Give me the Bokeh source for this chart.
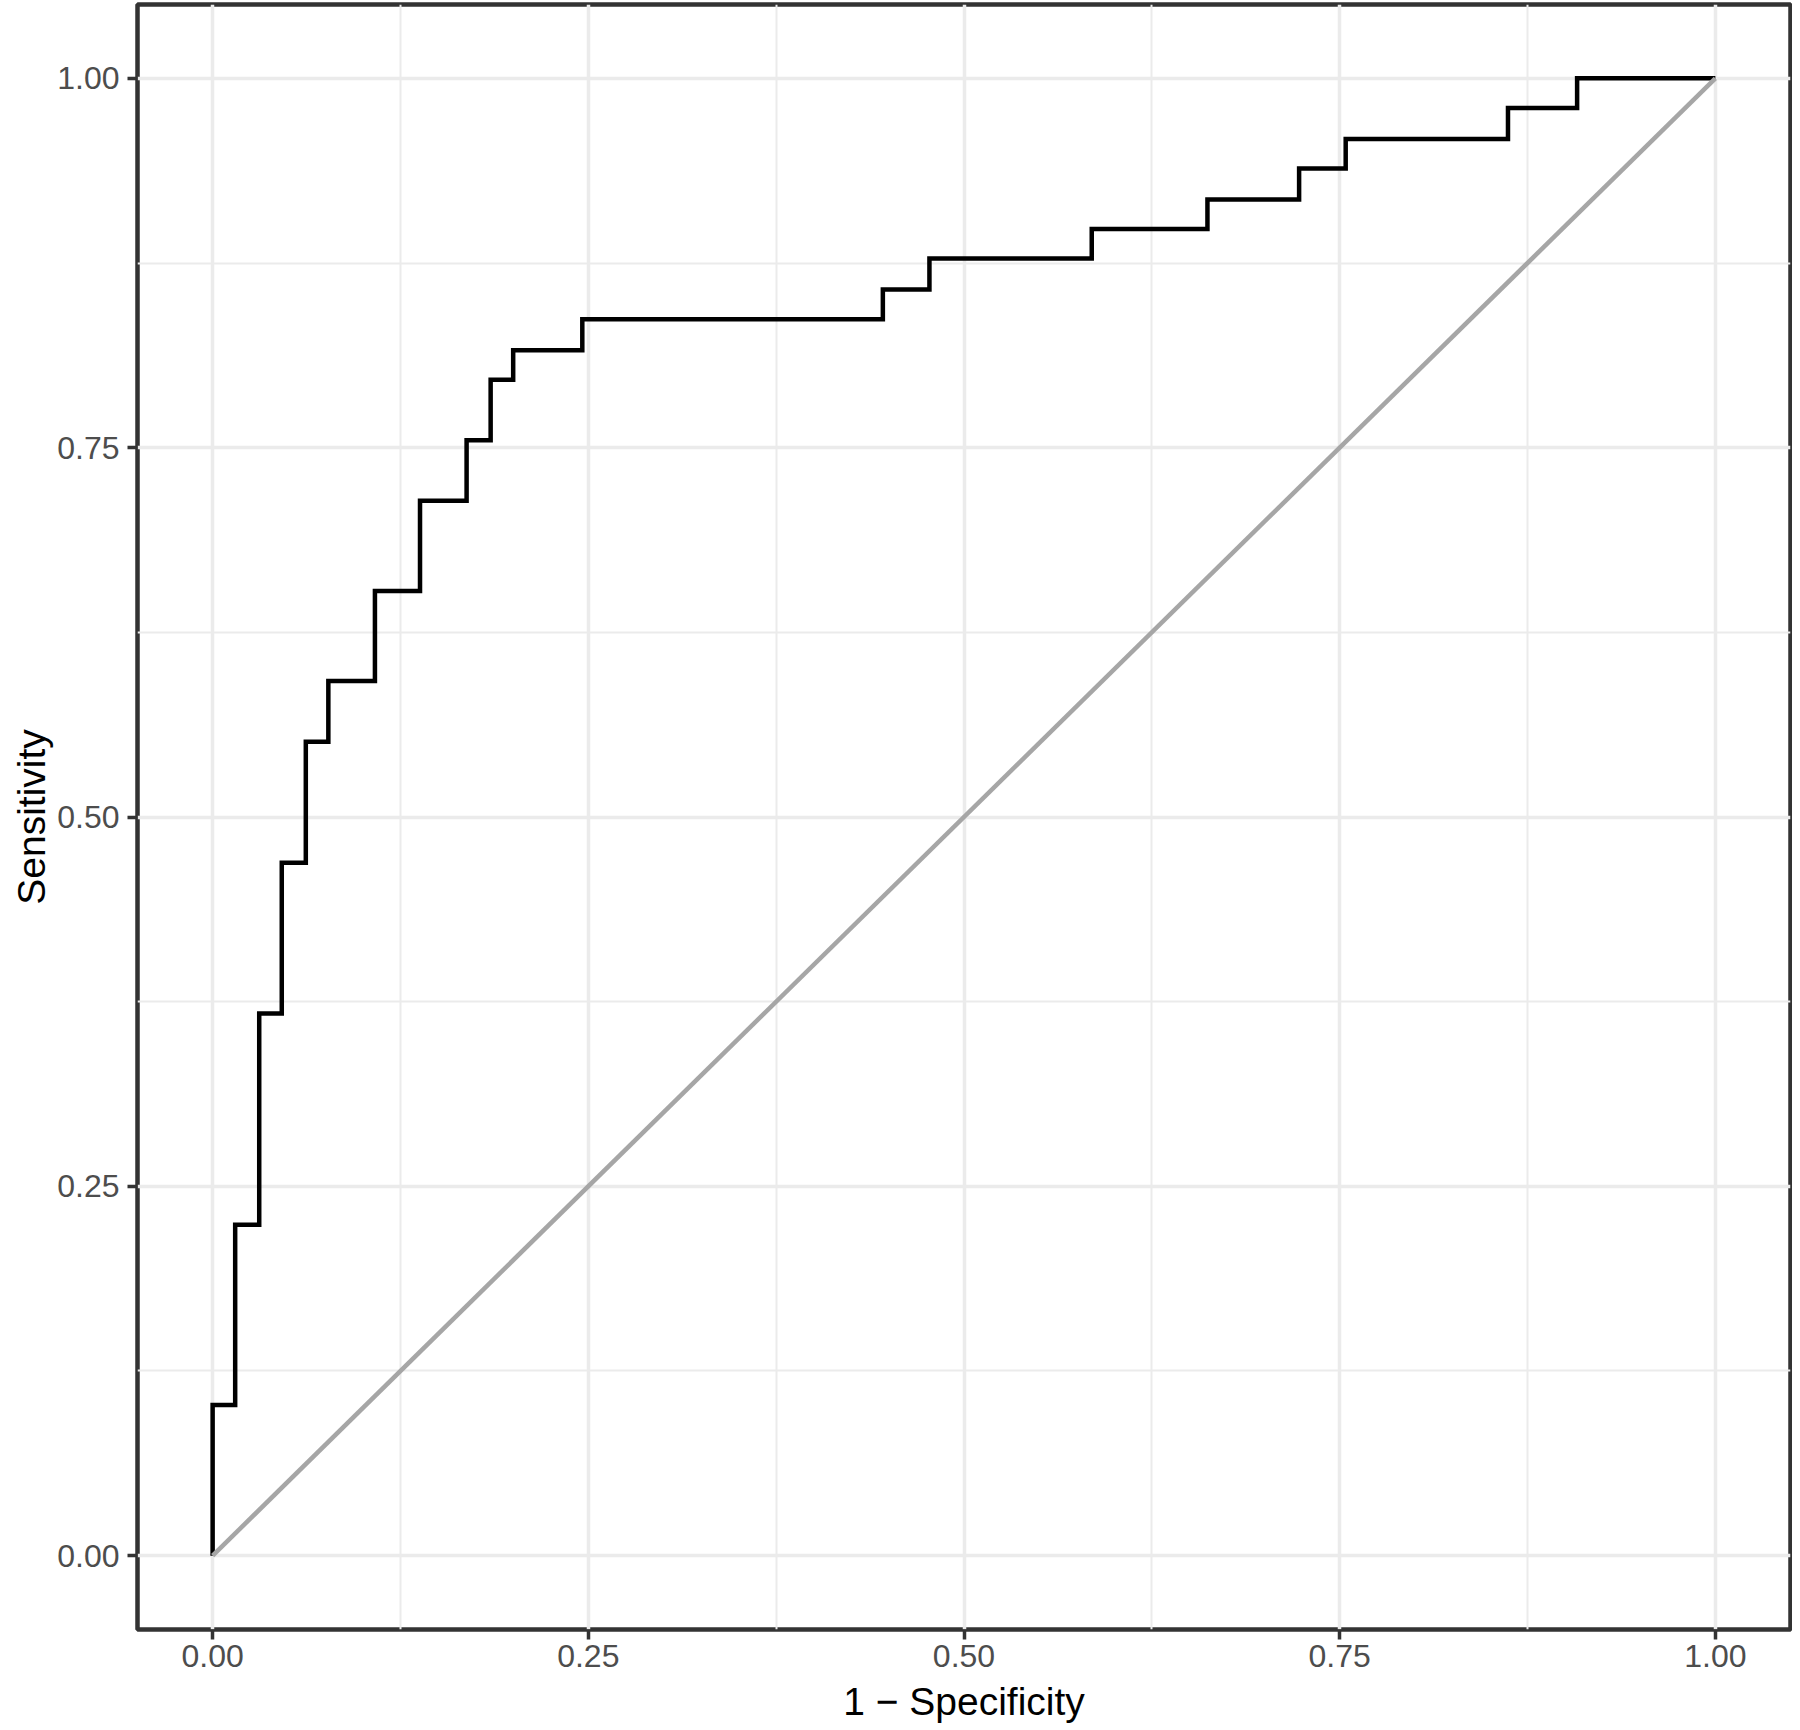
from bokeh.plotting import figure
from bokeh.models import FixedTicker, NumeralTickFormatter, Range1d
from bokeh.embed import file_html
from bokeh.resources import INLINE

# ROC curve vertices (1 - specificity, sensitivity)
fpr = [0.000, 0.000, 0.015, 0.015, 0.031, 0.031, 0.046, 0.046, 0.062, 0.062,
       0.077, 0.077, 0.108, 0.108, 0.138, 0.138, 0.169, 0.169, 0.185, 0.185,
       0.200, 0.200, 0.246, 0.246, 0.446, 0.446, 0.477, 0.477, 0.585, 0.585,
       0.662, 0.662, 0.723, 0.723, 0.754, 0.754, 0.862, 0.862, 0.908, 0.908,
       1.000]
tpr = [0.000, 0.102, 0.102, 0.224, 0.224, 0.367, 0.367, 0.469, 0.469, 0.551,
       0.551, 0.592, 0.592, 0.653, 0.653, 0.714, 0.714, 0.755, 0.755, 0.796,
       0.796, 0.816, 0.816, 0.837, 0.837, 0.857, 0.857, 0.878, 0.878, 0.898,
       0.898, 0.918, 0.918, 0.939, 0.939, 0.959, 0.959, 0.980, 0.980, 1.000,
       1.000]

# chance (reference) diagonal
chance_x = [0.0, 1.0]
chance_y = [0.0, 1.0]

major_ticks = [0.0, 0.25, 0.5, 0.75, 1.0]
minor_ticks = [0.125, 0.375, 0.625, 0.875]

x_title = "1 \u2212 Specificity"
y_title = "Sensitivity"

FONT = "Liberation Sans"

p = figure(frame_width=1653, frame_height=1625,
           min_border_left=137, min_border_right=2,
           min_border_top=4, min_border_bottom=93,
           x_range=Range1d(-0.05, 1.05), y_range=Range1d(-0.05, 1.05),
           output_backend="svg", toolbar_location=None,
           x_axis_label=x_title, y_axis_label=y_title)

p.background_fill_color = "white"
p.border_fill_color = "white"
p.outline_line_color = "#333333"
p.outline_line_width = 4.5

for ax in p.axis:
    ax.ticker = FixedTicker(ticks=major_ticks, minor_ticks=minor_ticks)
    ax.formatter = NumeralTickFormatter(format="0.00")
    ax.axis_line_color = None
    ax.major_tick_line_color = "#333333"
    ax.major_tick_line_width = 3.5
    ax.major_tick_out = 10
    ax.major_tick_in = 0
    ax.minor_tick_line_color = None
    ax.major_label_text_font = FONT
    ax.major_label_text_font_size = "32px"
    ax.major_label_text_color = "#4D4D4D"
    ax.axis_label_text_font = FONT
    ax.axis_label_text_font_size = "39px"
    ax.axis_label_text_font_style = "normal"
    ax.axis_label_text_color = "black"

p.xaxis.major_label_standoff = 5
p.xaxis.axis_label_standoff = 10
p.yaxis.major_label_standoff = 8
p.yaxis.axis_label_standoff = 1

for g in p.grid:
    g.ticker = FixedTicker(ticks=major_ticks, minor_ticks=minor_ticks)
    g.grid_line_color = "#EBEBEB"
    g.grid_line_width = 3.5
    g.minor_grid_line_color = "#EBEBEB"
    g.minor_grid_line_width = 2

p.line(fpr, tpr, line_color="black", line_width=4.5, line_join="miter")
p.line(chance_x, chance_y, line_color="#A6A6A6", line_width=4.5)

open("out.html", "w").write(file_html(p, INLINE))
